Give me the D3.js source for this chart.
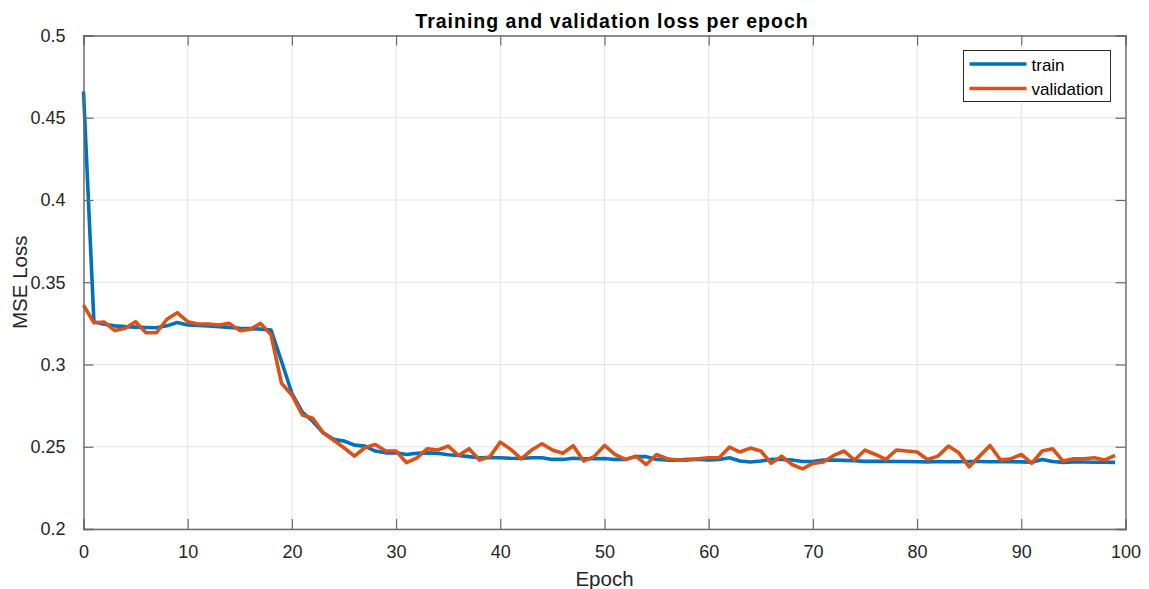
<!DOCTYPE html>
<html>
<head>
<meta charset="utf-8">
<script src="https://cdn.jsdelivr.net/npm/d3@7"></script>
<style>
  html, body { margin: 0; padding: 0; background: #fff; }
  svg { display: block; font-family: "Liberation Sans", Arial, Helvetica, sans-serif; }
</style>
</head>
<body>
<div id="chart"></div>
<script>
const chartTitle = "Training and validation loss per epoch";
const xLabel = "Epoch";
const yLabel = "MSE Loss";
const seriesNames = ["train", "validation"];
const xTicks = [0, 10, 20, 30, 40, 50, 60, 70, 80, 90, 100];
const yTicks = [0.2, 0.25, 0.3, 0.35, 0.4, 0.45, 0.5];
const yTickLabels = ["0.2", "0.25", "0.3", "0.35", "0.4", "0.45", "0.5"];

const trainLoss = [
  0.466, 0.326, 0.3245, 0.3235, 0.323, 0.3227, 0.3225, 0.3223, 0.3235, 0.3255,
  0.324, 0.3237, 0.3235, 0.323, 0.3225, 0.322, 0.3218, 0.3215, 0.321, 0.302,
  0.2825, 0.271, 0.2655, 0.2585, 0.2545, 0.2535, 0.251, 0.2504, 0.2474, 0.2463,
  0.2463, 0.2453, 0.246, 0.2463, 0.246, 0.2451, 0.2447, 0.244, 0.2433, 0.2435,
  0.2433, 0.243, 0.2429, 0.2433, 0.2433, 0.2423, 0.2423, 0.243, 0.2427, 0.2427,
  0.2429, 0.2423, 0.2423, 0.244, 0.244, 0.2423, 0.2419, 0.2419, 0.2423, 0.2423,
  0.2419, 0.2423, 0.2433, 0.2413, 0.2407, 0.2413, 0.2423, 0.2423, 0.2419, 0.241,
  0.241, 0.2419, 0.2419, 0.2417, 0.2415, 0.2411, 0.2411, 0.2411, 0.241, 0.241,
  0.2409, 0.2408, 0.241, 0.2409, 0.2409, 0.241, 0.241, 0.2409, 0.2409, 0.2409,
  0.2408, 0.2406, 0.2423, 0.241, 0.2405, 0.2407, 0.2407, 0.2406, 0.2406, 0.2405
];
const validationLoss = [
  0.336, 0.3254, 0.3258, 0.3206, 0.322, 0.326, 0.3193, 0.3193, 0.3275, 0.3315,
  0.326, 0.3246, 0.3246, 0.324, 0.325, 0.3206, 0.3214, 0.325, 0.318, 0.2886,
  0.2815, 0.2693, 0.2673, 0.2585, 0.254, 0.2494, 0.2443, 0.2494, 0.2514, 0.2474,
  0.2474, 0.2403, 0.2433, 0.2488, 0.248, 0.2504, 0.2447, 0.2488, 0.2419, 0.244,
  0.2528, 0.2484, 0.2427, 0.248, 0.2518, 0.248, 0.246, 0.2506, 0.2413, 0.244,
  0.2508, 0.2453, 0.2423, 0.2443, 0.2392, 0.2453, 0.2427, 0.2419, 0.2419, 0.2427,
  0.2433, 0.2433, 0.2498, 0.2468, 0.2492, 0.2474, 0.2399, 0.2443, 0.2392, 0.2366,
  0.2399, 0.2407, 0.2447, 0.2474, 0.2419, 0.248, 0.2453, 0.2423, 0.248, 0.2474,
  0.2468, 0.2423, 0.2443, 0.2504, 0.2463, 0.2378, 0.2443, 0.2508, 0.2419, 0.2427,
  0.2453, 0.2399, 0.2474, 0.2488, 0.2413, 0.2427, 0.2427, 0.2433, 0.2419, 0.2447
];
const colors = ["#0072BD", "#D95319"];

const W = 1149, H = 589;
const m = { left: 83.5, right: 23.5, top: 35.5, bottom: 60 };
const iw = W - m.left - m.right, ih = H - m.top - m.bottom;

const svg = d3.select("#chart").append("svg").attr("width", W).attr("height", H);
const g = svg.append("g").attr("transform", `translate(${m.left},${m.top})`);

const x = d3.scaleLinear().domain([0, 100]).range([0, iw]);
const y = d3.scaleLinear().domain([0.2, 0.5]).range([ih, 0]);

// grid
g.append("g").selectAll("line").data(xTicks).join("line")
  .attr("x1", d => x(d)).attr("x2", d => x(d)).attr("y1", 0).attr("y2", ih)
  .attr("stroke", "#e3e3e3").attr("stroke-width", 1);
g.append("g").selectAll("line").data(yTicks).join("line")
  .attr("y1", d => y(d)).attr("y2", d => y(d)).attr("x1", 0).attr("x2", iw)
  .attr("stroke", "#e3e3e3").attr("stroke-width", 1);

// lines
const line = d3.line().x((d, i) => x(i)).y(d => y(d));
[trainLoss, validationLoss].forEach((s, k) => {
  g.append("path").datum(s).attr("d", line)
    .attr("fill", "none").attr("stroke", colors[k]).attr("stroke-width", 3.6)
    .attr("stroke-linejoin", "round").attr("stroke-linecap", "butt");
});

// axes
const axisColor = "#6b6b6b";
const tickLen = 10;
const xAxisB = g.append("g").attr("transform", `translate(0,${ih})`)
  .call(d3.axisBottom(x).tickValues(xTicks).tickSize(-tickLen).tickPadding(tickLen + 6).tickFormat(d3.format("d")));
const xAxisT = g.append("g")
  .call(d3.axisTop(x).tickValues(xTicks).tickSize(-tickLen).tickFormat(""));
const yAxisL = g.append("g")
  .call(d3.axisLeft(y).tickValues(yTicks).tickSize(-tickLen).tickPadding(tickLen + 8).tickFormat((d, i) => yTickLabels[i]));
const yAxisR = g.append("g").attr("transform", `translate(${iw},0)`)
  .call(d3.axisRight(y).tickValues(yTicks).tickSize(-tickLen).tickFormat(""));
[xAxisB, xAxisT, yAxisL, yAxisR].forEach(a => {
  a.select(".domain").attr("stroke", axisColor).attr("stroke-width", 1.4);
  a.selectAll(".tick line").attr("stroke", axisColor).attr("stroke-width", 1.2);
  a.selectAll(".tick text").attr("fill", "#262626").attr("font-size", 18)
    .attr("font-family", "'Liberation Sans', Arial, sans-serif");
});
xAxisB.selectAll(".tick text").attr("dy", "0.71em");

// titles
svg.append("text").attr("x", 612).attr("y", 28)
  .attr("text-anchor", "middle").attr("font-size", 19.5).attr("font-weight", "bold")
  .attr("letter-spacing", 1).attr("fill", "#000").text(chartTitle);
svg.append("text").attr("x", m.left + iw / 2).attr("y", 586)
  .attr("text-anchor", "middle").attr("font-size", 20.5).attr("fill", "#262626").text(xLabel);
svg.append("text").attr("transform", `translate(26.5,${m.top + ih / 2}) rotate(-90)`)
  .attr("text-anchor", "middle").attr("font-size", 20.5).attr("fill", "#262626").text(yLabel);

// legend
const lg = svg.append("g");
lg.append("rect").attr("x", 963.5).attr("y", 50.5).attr("width", 147).attr("height", 51)
  .attr("fill", "#fff").attr("stroke", "#2b2b2b").attr("stroke-width", 1);
seriesNames.forEach((n, k) => {
  const yy = 64 + k * 24.5;
  lg.append("line").attr("x1", 969.5).attr("x2", 1026.5).attr("y1", yy).attr("y2", yy)
    .attr("stroke", colors[k]).attr("stroke-width", 3.6);
  lg.append("text").attr("x", 1031.5).attr("y", yy + 6.5).attr("font-size", 17)
    .attr("fill", "#000").text(n);
});
</script>
</body>
</html>
